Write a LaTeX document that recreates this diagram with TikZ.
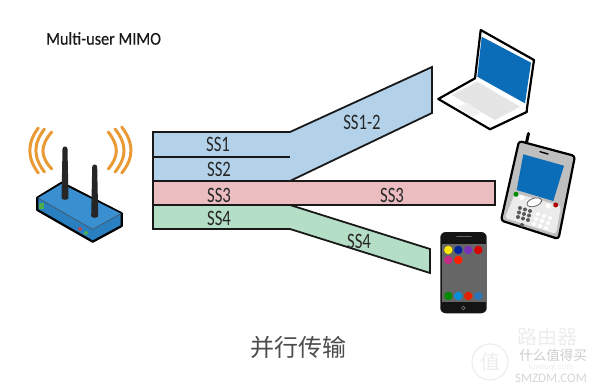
\documentclass[tikz,border=0pt]{standalone}
\usepackage{fontspec}
\setmainfont{Carlito}
\newfontfamily\condfont[FakeStretch=0.76]{Carlito}
\newfontfamily\titlefont[FakeStretch=0.9,FakeBold=0.4]{Carlito}
\newfontfamily\cjkfont{Noto Sans CJK SC}
\definecolor{bandblue}{HTML}{B3D2E9}
\definecolor{bandpink}{HTML}{EBBDC1}
\definecolor{bandgreen}{HTML}{B5DEC6}
\definecolor{wave}{HTML}{E99A35}
\definecolor{routertop}{HTML}{3A8FD0}
\definecolor{routerside}{HTML}{2A7FC0}
\definecolor{screenblue}{HTML}{0B6CB8}
\definecolor{wmark}{HTML}{EDEDED}
\tikzset{
  band/.style={draw=black!90,line width=1.8pt,line join=miter},
  ssl/.style={font=\condfont\fontsize{22}{22}\selectfont,text=black!85,inner sep=0pt},
  wavearc/.style={draw=wave,line width=3pt,line cap=round},
  outline/.style={draw=black,line width=2.2pt,line join=round},
  key/.style={circle,fill=#1,inner sep=0pt,minimum size=4pt},
  app/.style={circle,fill=#1,inner sep=0pt,minimum size=8.5pt},
  wmtext/.style={text=wmark,inner sep=0pt},
}
\begin{document}
\begin{tikzpicture}[x=1pt,y=-1pt]
\useasboundingbox (0,0) rectangle (600,390);

% data streams
\draw[band,fill=bandblue] (153,132) -- (290,132) -- (432,67) -- (432,113) -- (290,181) -- (153,181) -- cycle;
\draw[band] (153,157) -- (290,157);
\draw[band,fill=bandgreen] (153,205) -- (290,205) -- (430,249) -- (430,273) -- (290,229) -- (153,229) -- cycle;
\draw[band,fill=bandpink] (153,181) -- (495,181) -- (495,205) -- (153,205) -- cycle;

\node[ssl] (s1) at (218,144) {SS1};
\node[ssl] (s2) at (219,169) {SS2};
\node[ssl] (s3) at (219,195) {SS3};
\node[ssl] (s4) at (219,218) {SS4};
\node[ssl] (s12) at (362,122) {SS1-2};
\node[ssl] (s3b) at (392,195) {SS3};
\node[ssl] (s4b) at (359,241) {SS4};

\node[anchor=west,inner sep=0pt,font=\titlefont\fontsize{18}{18}\selectfont,text=black!90] (title) at (46,38.5) {Multi-user MIMO};
\node[inner sep=0pt,font=\cjkfont\fontsize{24}{24}\selectfont,text=black!70] (caption) at (298,347) {并行传输};

% radio waves on either side of the router
\draw[wavearc] (38.3,128) .. controls (27,143) and (27,158) .. (38.3,173);
\draw[wavearc] (44.5,129) .. controls (33,144) and (33,157) .. (44.5,172);
\draw[wavearc] (51.7,132) .. controls (40,146) and (40,156) .. (51.7,169);
\draw[wavearc] (108.3,132) .. controls (119,146) and (119,156) .. (108.3,169);
\draw[wavearc] (115,129) .. controls (127,144) and (127,157) .. (115,172);
\draw[wavearc] (121.7,127) .. controls (134,143) and (134,158) .. (121.7,173);

% router body
\draw[outline,fill=routerside] (37.3,197.7) -- (61.7,182.7) -- (121.7,213.3) -- (121.7,226) -- (92.7,241.7) -- (37.3,210) -- cycle;
\fill[routertop] (38.5,197.7) -- (61.7,184) -- (120.5,213.5) -- (92.7,229.3) -- cycle;
\draw[black!70,line width=.5pt] (37.3,197.7) -- (92.7,229.3) -- (121.7,213.3);
\fill[green!55!black!70] (39,203) rectangle (44,209);
\fill[red!60!black!70] (80,229) circle (2);
\fill[green!55!black!70] (86,233) circle (2);
% antennas
\fill[black!85] (61.5,198) -- (62.5,149) arc (180:360:2.5) -- (68.5,198) arc (0:180:3.5 and 1.8) -- cycle;
\fill[black!85] (91.2,216) -- (92.2,167) arc (180:360:2.5) -- (98.2,216) arc (0:180:3.5 and 1.8) -- cycle;

% laptop
\draw[outline,fill=white] (480.7,30) -- (534,60) -- (527,108) -- (526.7,112) -- (490,129.3) -- (438.3,99) -- (475,78.3) -- cycle;
\fill[screenblue] (481.7,36.7) -- (531,62.7) -- (525,103.3) -- (477.3,76.7) -- cycle;
\fill[black!10] (451.7,95) -- (477.3,81.7) -- (520,106.7) -- (495,120) -- cycle;
\fill[black!6] (458,106.7) -- (468.3,102.7) -- (480,113) -- (471.7,117.3) -- cycle;

% smartphone with keypad
\draw[draw=black,line width=3pt,line cap=round] (528.5,133.5) -- (525.5,147);
\draw[outline,fill=black!25,rounded corners=3pt] (519,141) -- (575,156) -- (558.5,239) -- (501,220.5) -- cycle;
\fill[black!8,rounded corners=3pt] (515,193) -- (561,206) -- (556,234) -- (505,218) -- cycle;
\fill[screenblue] (523.3,154.3) -- (564,165.7) -- (553.3,201) -- (516.7,190) -- cycle;
\draw[black,line width=1.4pt,line cap=round] (540,151.7) -- (548,154);
\node[key=green!55!black,minimum size=5pt] (kg) at (516,194.3) {};
\node[key=white,minimum size=5pt] (kw1) at (521.7,197.7) {};
\node[key=white,minimum size=5pt] (kw2) at (548.3,206) {};
\node[key=red!70!black,minimum size=5pt] (kr) at (555.7,205) {};
\draw[black!60,fill=white,line width=.8pt,rotate around={18:(534.3,202.3)}] (534.3,202.3) ellipse (7.5 and 4);
\foreach \cx/\cy [count=\i] in {520/208,525/209.5,530/211,519/212.5,524/214,529/215.5,518/217,523/218.5,528/220}{
  \node[key=black!65] (dk\i) at (\cx,\cy) {};
}
\node[key=black!65] (dk10) at (522,225) {};
\foreach \cx/\cy [count=\i] in {538/214,544/216,550/218,536/219,542/221,548/223,534/224,540/226,546/228}{
  \node[key=white] (lk\i) at (\cx,\cy) {};
}

% touch-screen phone
\draw[white,line width=2pt,fill=black!92,rounded corners=6pt] (439.3,231) rectangle (487.7,314.3);
\fill[black!60] (441.7,244) rectangle (485.7,301.7);
\draw[black!60,line width=1.6pt,line cap=round] (457,236.7) -- (471,236.7);
\draw[black!55,line width=.6pt] (463.3,308) circle (1.8);
\node[app=yellow!90!orange] (a1) at (448.3,250) {};
\node[app=blue!55!black!85!cyan] (a2) at (458.3,250) {};
\node[app=violet!70!blue!80!white] (a3) at (468.3,250) {};
\node[app=red!85!black] (a4) at (478.3,250) {};
\node[app=magenta!80!black] (a5) at (448.3,260) {};
\node[app=red!75!orange] (a6) at (458.3,260) {};
\node[app=green!55!black] (a7) at (448.3,296) {};
\node[app=cyan!75!blue] (a8) at (458.3,296) {};
\node[app=red!70!orange!90!black] (a9) at (468.3,296) {};
\node[app=cyan!60!blue!85!black] (a10) at (478.3,296) {};

% site marks in the lower corner
\draw[wmark,line width=1.2pt] (490,362) circle (18);
\node[wmtext,font=\cjkfont\fontsize{20}{20}\selectfont] (w0) at (490,362) {值};
\node[wmtext,font=\cjkfont\fontsize{20}{20}\selectfont] (w1) at (547,337) {路由器};
\node[wmtext,font=\cjkfont\fontsize{13.5}{13.5}\selectfont,text=black!20] (w2) at (553,355) {什么值得买};
\node[wmtext,font=\fontsize{9}{9}\selectfont] (w3) at (551,367) {luyouqi.com};
\node[wmtext,font=\fontsize{13}{13}\selectfont,text=black!16] (w4) at (551,378) {SMZDM.COM};
\end{tikzpicture}
\end{document}
